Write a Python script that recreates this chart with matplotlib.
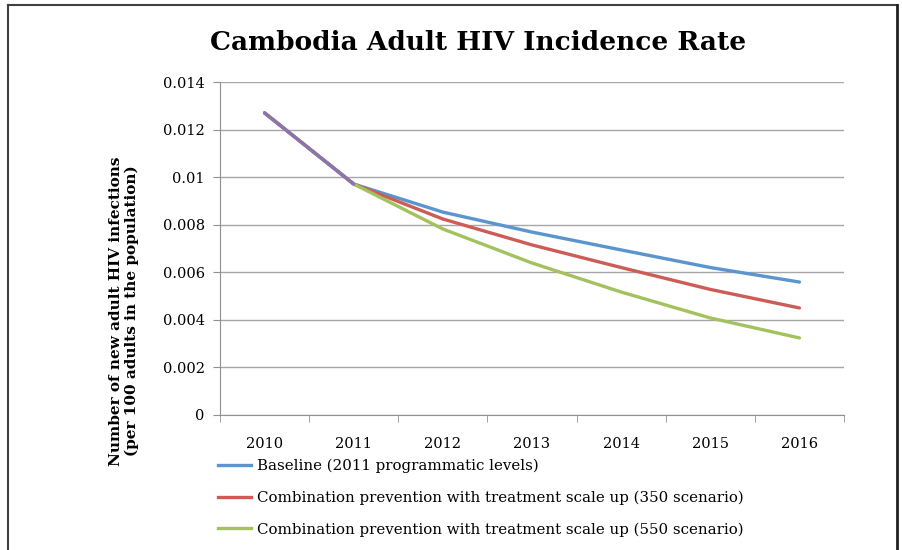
import matplotlib
matplotlib.use("Agg")
import matplotlib.pyplot as plt
from matplotlib.lines import Line2D

YEARS = ["2010", "2011", "2012", "2013", "2014", "2015", "2016"]
BASELINE = [0.0127, 0.00971, 0.00853, 0.00769, 0.00694, 0.00620, 0.00559]
SCEN_350 = [0.0127, 0.00971, 0.00824, 0.00715, 0.00620, 0.00528, 0.00450]
SCEN_550 = [0.0127, 0.00971, 0.00782, 0.00639, 0.00517, 0.00408, 0.00324]
HISTORIC = [0.0127, 0.00971]
LABELS = ["Baseline (2011 programmatic levels)",
          "Combination prevention with treatment scale up (350 scenario)",
          "Combination prevention with treatment scale up (550 scenario)"]
COLORS = ["#5a95d0", "#cd5c57", "#a3c25e"]
YTICKS = [0, 0.002, 0.004, 0.006, 0.008, 0.01, 0.012, 0.014]
YTICKLABELS = ["0", "0.002", "0.004", "0.006", "0.008", "0.01", "0.012", "0.014"]

plt.rcParams["font.family"] = ["DejaVu Serif"]
W, H = 903, 550
fig = plt.figure(figsize=(W / 100, H / 100), dpi=100)

# chart frame (left, top, right edges visible)
fig.add_artist(Line2D([8 / W, 8 / W], [0, 1 - 5 / H], color="#404040", lw=1.5, transform=fig.transFigure))
fig.add_artist(Line2D([8 / W, 897 / W], [1 - 5 / H, 1 - 5 / H], color="#404040", lw=1.5, transform=fig.transFigure))
fig.add_artist(Line2D([897 / W, 897 / W], [0, 1 - 5 / H], color="#202020", lw=2, transform=fig.transFigure))

ax = fig.add_axes([220 / W, 1 - 415 / H, (844 - 220) / W, (415 - 82) / H])
x = list(range(len(YEARS)))
for vals, c in zip([BASELINE, SCEN_350, SCEN_550], COLORS):
    ax.plot(x, vals, color=c, lw=2.4, solid_capstyle="round")
ax.plot(x[:len(HISTORIC)], HISTORIC, color="#8d72b0", lw=2.4, solid_capstyle="round")

ax.set_xlim(-0.5, len(YEARS) - 0.5)
ax.set_ylim(0, 0.014)
ax.set_yticks(YTICKS)
ax.set_yticklabels(YTICKLABELS, fontsize=10.5)
ax.set_xticks(x)
ax.set_xticklabels(YEARS, fontsize=10.5)
ax.set_xticks([i - 0.5 for i in range(len(YEARS) + 1)], minor=True)
ax.tick_params(axis="x", which="major", length=0, pad=16)
ax.tick_params(axis="x", which="minor", length=5, color="#909090")
ax.tick_params(axis="y", length=5, color="#909090", pad=6)
ax.grid(axis="y", color="#a6a6a6", lw=1)
ax.set_axisbelow(True)
for s in ["top", "right"]:
    ax.spines[s].set_visible(False)
for s in ["left", "bottom"]:
    ax.spines[s].set_color("#909090")

fig.text(478 / W, 1 - 42 / H, "Cambodia Adult HIV Incidence Rate", ha="center", va="center",
         fontsize=19, fontweight="bold")
fig.text(124 / W, 1 - 311 / H, "Number of new adult HIV infections\n(per 100 adults in the population)",
         ha="center", va="center", rotation=90, fontsize=11, fontweight="bold", linespacing=1.1)

handles = [Line2D([], [], color=c, lw=2.4) for c in COLORS]
fig.legend(handles, LABELS, loc="upper left", bbox_to_anchor=(212 / W, 1 - 453 / H), frameon=False,
           fontsize=10.8, handlelength=2.2, handletextpad=0.4, labelspacing=1.15, borderaxespad=0)

fig.savefig("out.png", dpi=100)
